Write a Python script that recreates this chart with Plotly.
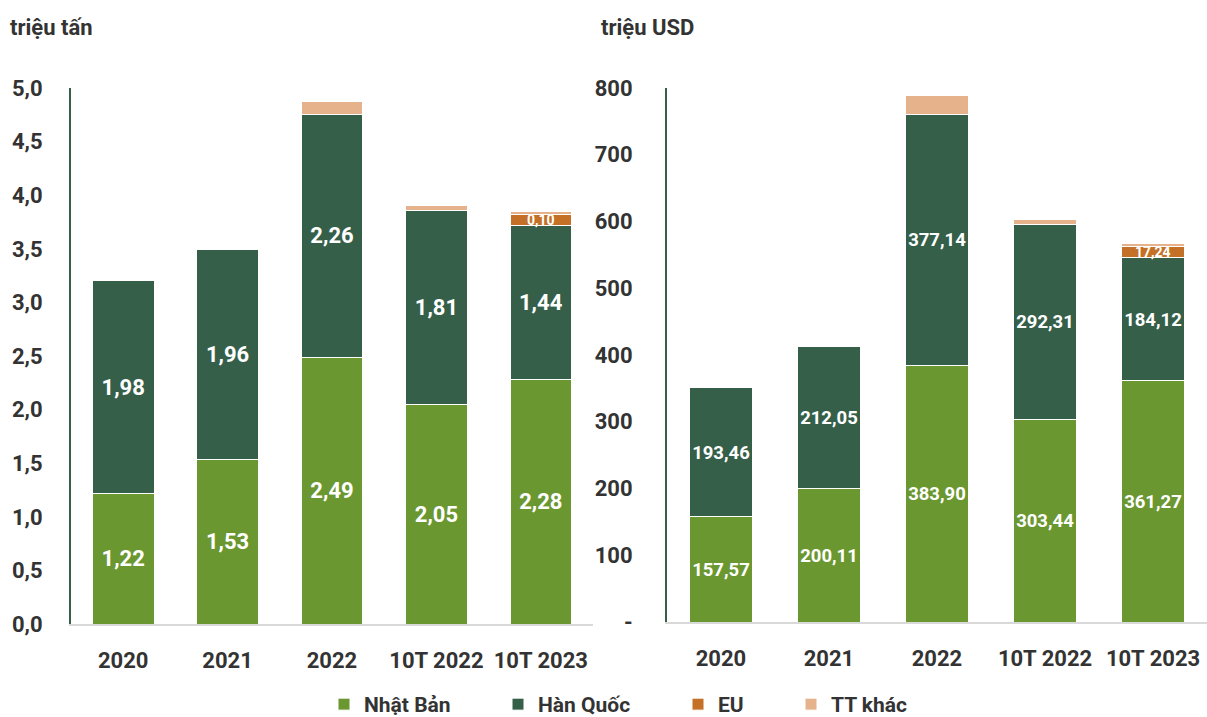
import plotly.graph_objects as go

categories = ["2020", "2021", "2022", "10T 2022", "10T 2023"]

# triệu tấn
ton_japan = [1.22, 1.53, 2.49, 2.05, 2.28]
ton_korea = [1.98, 1.96, 2.26, 1.81, 1.44]
ton_eu = [0, 0, 0, 0, 0.10]
ton_other = [0.015, 0, 0.12, 0.04, 0.03]

# triệu USD
usd_japan = [157.57, 200.11, 383.90, 303.44, 361.27]
usd_korea = [193.46, 212.05, 377.14, 292.31, 184.12]
usd_eu = [0, 0, 0, 0, 17.24]
usd_other = [1.5, 0, 27.0, 7.5, 4.5]

left_ticks = [0, 0.5, 1, 1.5, 2, 2.5, 3, 3.5, 4, 4.5, 5]
left_ticktext = ["0,0", "0,5", "1,0", "1,5", "2,0", "2,5", "3,0", "3,5", "4,0", "4,5", "5,0"]
right_ticks = [0, 100, 200, 300, 400, 500, 600, 700, 800]
right_ticktext = ["-", "100", "200", "300", "400", "500", "600", "700", "800"]

C_JP = "#6b9731"
C_KR = "#365f4a"
C_EU = "#c47127"
C_OT = "#e6b28c"
FONT = "Roboto"
DARK = "#333333"
W, H = 1207, 717


def fmt(v):
    return f"{v:.2f}".replace(".", ",")


fig = go.Figure()

# name, colour, left values, right values, labelled, legend id, legend text x (px)
series = [
    ("Nhật Bản", C_JP, ton_japan, usd_japan, True, "legend", 368),
    ("Hàn Quốc", C_KR, ton_korea, usd_korea, True, "legend2", 542),
    ("EU", C_EU, ton_eu, usd_eu, False, "legend3", 722),
    ("TT khác", C_OT, ton_other, usd_other, False, "legend4", 835),
]

legend_font = dict(size=21, color=DARK, family=FONT, weight="bold")
legends = {}
for name, color, lv, rv, labelled, lg, tx in series:
    legends[lg] = dict(orientation="h", x=(tx - 44) / W, xanchor="left",
                       y=-8 / H, yanchor="bottom", font=legend_font,
                       itemwidth=30, bgcolor="rgba(0,0,0,0)", tracegroupgap=0)
    for i, (vals, xa, ya, size) in enumerate([(lv, "x", "y", 22), (rv, "x2", "y2", 19)]):
        fig.add_trace(go.Bar(
            x=categories, y=vals, name=name, xaxis=xa, yaxis=ya,
            marker=dict(color=color, line=dict(color="white", width=1)),
            text=[fmt(v) for v in vals] if labelled else None,
            textposition="inside" if labelled else "none",
            insidetextanchor="middle", textangle=0,
            insidetextfont=dict(color="white", size=size, family=FONT, weight="bold"),
            showlegend=(i == 0), legend=lg,
            hoverinfo="skip",
        ))

# small EU labels placed at the middle of the EU segment
annotations = []
for vals_j, vals_k, vals_e, xa, ya in [
    (ton_japan, ton_korea, ton_eu, "x", "y"),
    (usd_japan, usd_korea, usd_eu, "x2", "y2"),
]:
    for c, j, k, e in zip(categories, vals_j, vals_k, vals_e):
        if e > 0:
            annotations.append(dict(
                x=c, y=j + k + e / 2, xref=xa, yref=ya, text=fmt(e),
                showarrow=False, font=dict(color="white", size=14, family=FONT, weight="bold"),
            ))

title_font = dict(size=22, color=DARK, family=FONT, weight="bold")
annotations.append(dict(x=8 / W, y=1 - 27 / H, xref="paper", yref="paper",
                        text="triệu tấn", showarrow=False, xanchor="left", yanchor="middle",
                        font=title_font))
annotations.append(dict(x=599 / W, y=1 - 27 / H, xref="paper", yref="paper",
                        text="triệu USD", showarrow=False, xanchor="left", yanchor="middle",
                        font=title_font))

tickfont = dict(size=22, color=DARK, family=FONT, weight="bold")
xaxis_common = dict(showgrid=False, showline=True, linecolor="#d9d9d9", linewidth=2,
                    ticks="", tickfont=tickfont, ticklabelstandoff=16, automargin=False)
yaxis_common = dict(showgrid=False, zeroline=False, showline=True, linecolor=C_KR,
                    linewidth=2, tickfont=tickfont, automargin=False)

fig.update_layout(
    width=W, height=H,
    margin=dict(l=0, r=0, t=0, b=0, autoexpand=False),
    paper_bgcolor="white", plot_bgcolor="white",
    barmode="stack", bargap=0.41,
    font=dict(family=FONT, color=DARK),
    xaxis=dict(domain=[71 / W, 593 / W], anchor="y", **xaxis_common),
    xaxis2=dict(domain=[667 / W, 1.0], anchor="y2", **xaxis_common),
    yaxis=dict(domain=[1 - 624 / H, 1 - 88 / H], range=[0, 5], anchor="x",
               tickvals=left_ticks, ticktext=left_ticktext, ticklabelstandoff=22,
               **yaxis_common),
    yaxis2=dict(domain=[1 - 622 / H, 1 - 88 / H], range=[0, 800], anchor="x2",
                tickvals=right_ticks, ticktext=right_ticktext, ticklabelstandoff=28,
                **yaxis_common),
    annotations=annotations,
    **legends,
)

fig.write_html("out.html", config={"displayModeBar": False},
               post_script="document.body.style.margin='0';")
